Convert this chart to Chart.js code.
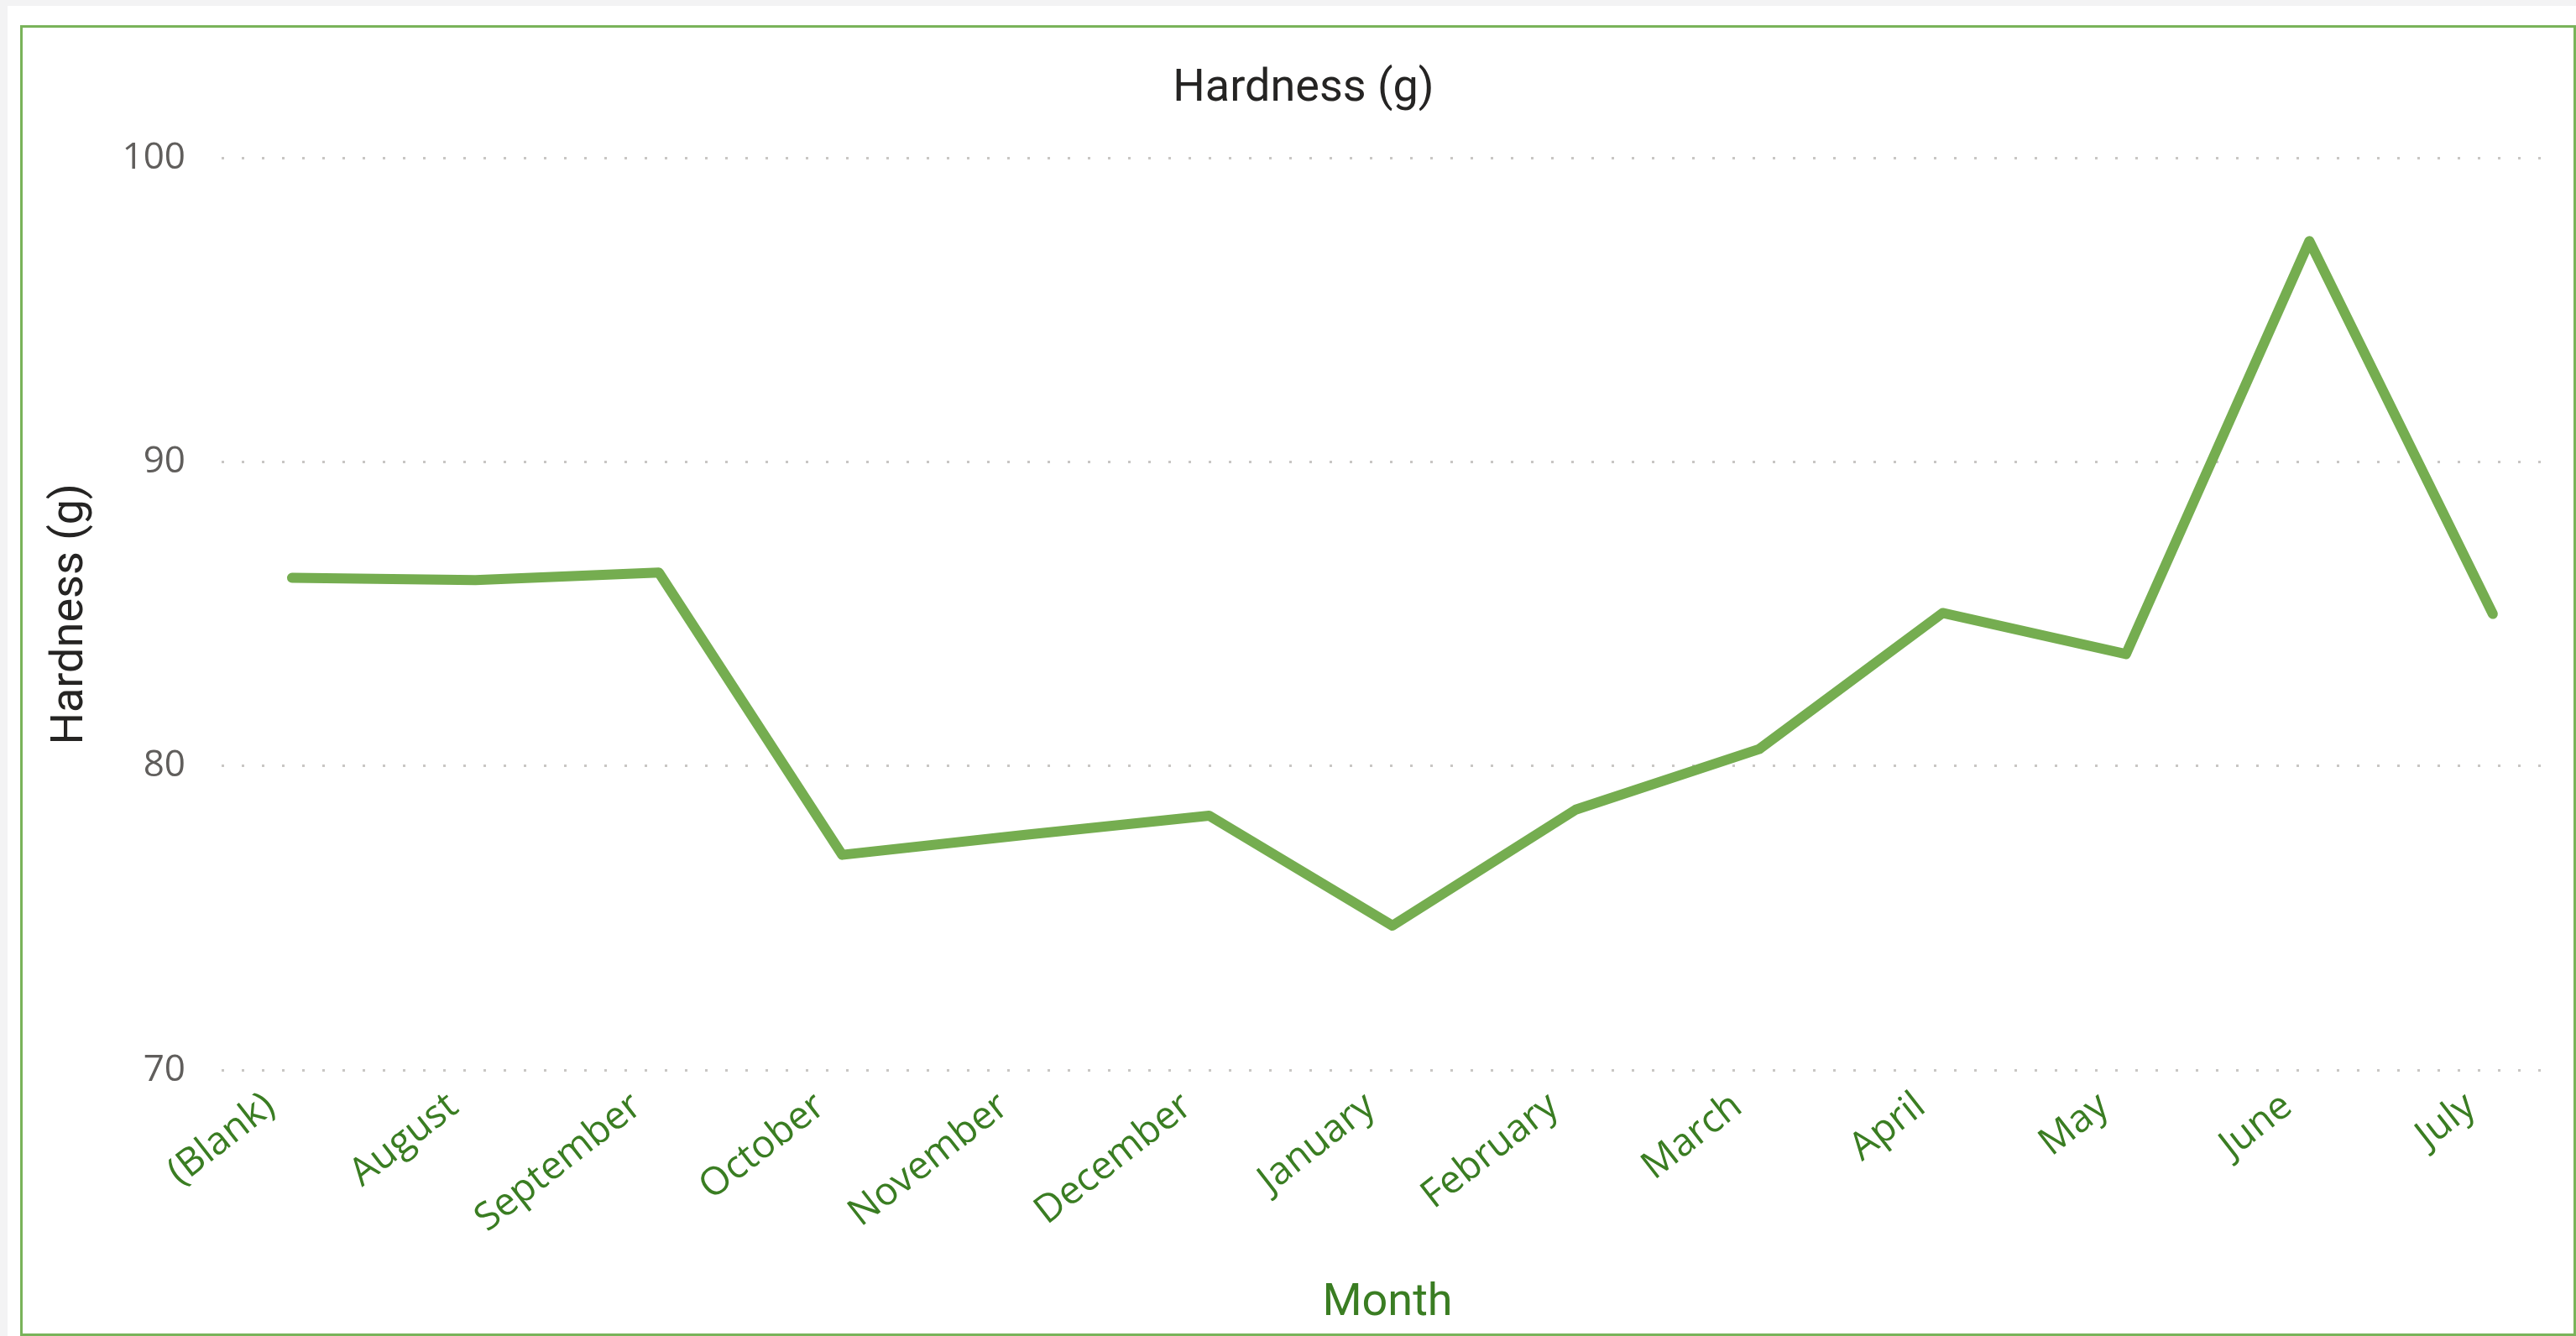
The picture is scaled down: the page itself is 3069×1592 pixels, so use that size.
<!DOCTYPE html>
<html>
<head>
<meta charset="utf-8">
<script src="https://cdn.jsdelivr.net/npm/chart.js@4"></script>
<style>
  body { margin: 0; background: #f3f3f4; width: 3069px; height: 1592px; overflow: hidden; }
  #card { position: absolute; left: 9px; top: 7px; right: 0; bottom: 0; background: #fff; }
  #frame { position: absolute; left: 24px; top: 30px; width: 3045px; height: 1562px; box-sizing: border-box; border: 3px solid #79b35a; }
  #chart { position: absolute; left: 0; top: 0; }
</style>
</head>
<body>
<div id="card"></div>
<div id="frame"></div>
<canvas id="chart" width="3069" height="1592"></canvas>
<script>
// data
const months = ["(Blank)", "August", "September", "October", "November", "December",
  "January", "February", "March", "April", "May", "June", "July"];
const hardness = [86.2, 86.12, 86.37, 77.08, 77.74, 78.37, 74.75, 78.57, 80.56, 85.04, 83.69, 97.28, 85.01];
const yTicks = [70, 80, 90, 100];

const green = "#75ad50";
const labelGreen = "#3a7d22";

let points = months.map((m, i) => ({ x: i, y: hardness[i] }));

let ctx = document.getElementById("chart").getContext("2d");
new Chart(ctx, {
  type: "line",
  data: {
    datasets: [{
      label: "Hardness (g)",
      data: points,
      borderColor: green,
      borderWidth: 12,
      borderCapStyle: "round",
      borderJoinStyle: "round",
      pointRadius: 0,
      tension: 0,
      fill: false
    }]
  },
  options: {
    responsive: false,
    devicePixelRatio: 1,
    animation: false,
    layout: { padding: { left: 64, right: 27, top: 0, bottom: 0 } },
    plugins: {
      legend: { display: false },
      tooltip: { enabled: false },
      title: {
        display: true,
        text: "Hardness (g)",
        color: "#252423",
        font: { family: "Roboto", size: 54, weight: "normal", lineHeight: 1.2 },
        padding: { top: 74, bottom: 50 }
      }
    },
    scales: {
      x: {
        type: "linear",
        min: -0.384,
        max: 12.33,
        afterBuildTicks: axis => { axis.ticks = months.map((m, i) => ({ value: i })); },
        afterFit: scale => { scale.height = 317; },
        grid: { display: false },
        border: { display: false },
        ticks: {
          autoSkip: false,
          maxRotation: 38,
          minRotation: 38,
          padding: 8,
          labelOffset: -26,
          color: labelGreen,
          font: { family: "'Segoe UI', 'Open Sans'", size: 46 },
          callback: v => months[v]
        },
        title: {
          display: true,
          text: "Month",
          color: labelGreen,
          font: { family: "Roboto", size: 54, weight: "normal", lineHeight: 1.2 },
          padding: { top: 0, bottom: 6 }
        }
      },
      y: {
        min: 70,
        max: 100,
        afterBuildTicks: axis => { axis.ticks = yTicks.map(v => ({ value: v })); },
        afterFit: scale => { scale.width = 200; },
        grid: { color: "#c8c6c4", lineWidth: 3, drawTicks: false },
        border: { display: false, dash: [3, 21] },
        ticks: {
          padding: 43,
          color: "#605e5c",
          font: { family: "'Segoe UI', 'Open Sans'", size: 44 }
        },
        title: {
          display: true,
          text: "Hardness (g)",
          color: "#252423",
          font: { family: "Roboto", size: 54, weight: "normal", lineHeight: 1 },
          padding: { top: -7, bottom: 0 }
        }
      }
    }
  }
});
</script>
</body>
</html>
